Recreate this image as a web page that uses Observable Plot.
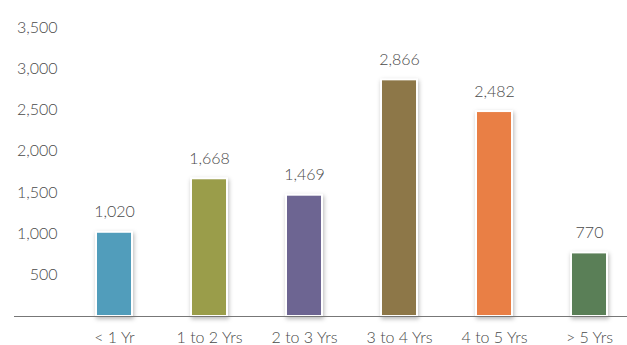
<!DOCTYPE html>
<html><head><meta charset="utf-8">
<script src="https://cdn.jsdelivr.net/npm/d3@7"></script>
<script src="https://cdn.jsdelivr.net/npm/@observablehq/plot@0.6"></script>
<style>
body{margin:0;background:#fff;}
svg rect.bar{filter:drop-shadow(1px 2px 2px rgba(0,0,0,0.28));}
</style>
</head><body><div id="chart"></div>
<script>
const categories = ["< 1 Yr","1 to 2 Yrs","2 to 3 Yrs","3 to 4 Yrs","4 to 5 Yrs","> 5 Yrs"];
const values = [1020,1668,1469,2866,2482,770];
const colors = ["#519dbb","#9a9d4a","#6d6592","#8d7748","#e97f45","#5a7f57"];
const yTicks = [500,1000,1500,2000,2500,3000,3500];

const data = categories.map((c,i)=>({cat:c, value:values[i], color:colors[i]}));
const font = "Lato, 'Open Sans', sans-serif";
const textColor = "#4a4a4a";

const chart = Plot.plot({
  width: 627, height: 345,
  marginLeft: 14, marginRight: 0, marginTop: 27, marginBottom: 29,
  style: {fontFamily: font, fontSize: "16px", color: textColor, background: "#fff"},
  x: {domain: categories, range: [65.3, 637.7], paddingInner: 0.62, paddingOuter: 0.31, label: null},
  y: {domain: [0,3500], label: null},
  marks: [
    Plot.barY(data, {x:"cat", y:"value", fill:"color", stroke:"#fff", strokeWidth:2}),
    Plot.ruleY([0], {stroke:"#777", strokeWidth:1}),
    Plot.text(data, {x:"cat", y:"value", text: d=>d3.format(",")(d.value), dy:-20, fill:textColor, fontSize:16, fontWeight:300}),
    Plot.axisY({ticks: yTicks, tickSize:0, tickPadding:0, dx:43, tickFormat: d3.format(","), fill:textColor, fontSize:16, fontWeight:300}),
    Plot.axisX({tickSize:0, tickPadding:15, fill:textColor, fontSize:16, fontWeight:300})
  ]
});
document.getElementById("chart").appendChild(chart);
chart.querySelectorAll("g[aria-label='bar'] rect").forEach(r=>r.setAttribute("class","bar"));
</script></body></html>
